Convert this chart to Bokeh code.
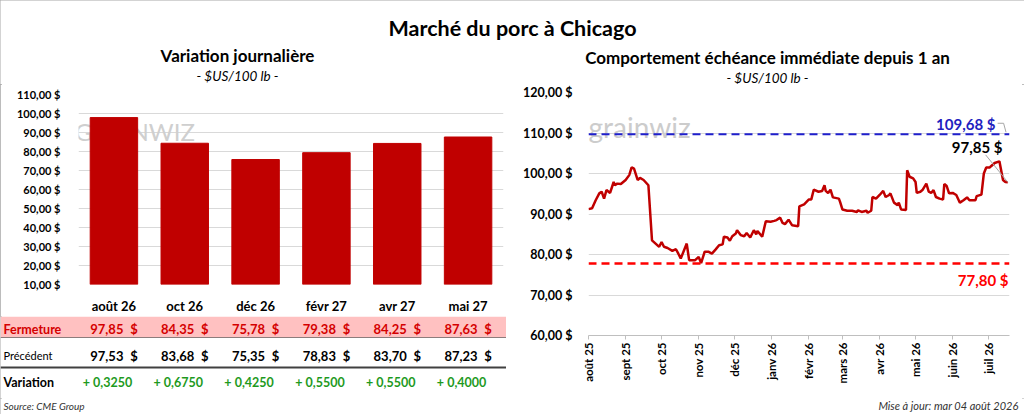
import math
import pandas as pd
from bokeh.plotting import figure
from bokeh.layouts import column, row
from bokeh.models import Range1d, FixedTicker, Span, BoxAnnotation
from bokeh.core.properties import value
from bokeh.embed import file_html
from bokeh.resources import INLINE

# contrats (variation journaliere)
echeances = ["août 26", "oct 26", "déc 26", "févr 27", "avr 27", "mai 27"]
fermeture = [97.85, 84.35, 75.78, 79.38, 84.25, 87.63]
precedent = [97.53, 83.68, 75.35, 78.83, 83.70, 87.23]
variation = [0.3250, 0.6750, 0.4250, 0.5500, 0.5500, 0.4000]

# echeance immediate, jours depuis le 1er aout 2025
jours = [0, 3, 6, 9, 11, 13, 15, 18, 21, 22, 24, 27, 31, 34, 36, 38, 41, 43, 46, 50,
         53, 56, 59, 61, 63, 66, 70, 73, 75, 77, 82, 84, 89, 92, 94, 97, 100, 103, 106, 109,
         112, 113, 116, 118, 120, 123, 124, 127, 130, 132, 135, 138, 140, 141, 145, 148, 152, 155, 157, 160,
         162, 164, 167, 170, 175, 176, 180, 184, 186, 188, 192, 195, 197, 198, 200, 202, 204, 209, 210, 212,
         216, 220, 224, 225, 228, 232, 233, 236, 237, 240, 243, 246, 248, 251, 252, 255, 258, 259, 261, 265,
         266, 268, 271, 273, 274, 277, 279, 282, 284, 286, 288, 290, 293, 296, 297, 299, 301, 304, 307, 310,
         313, 316, 318, 323, 324, 328, 330, 332, 335, 336, 339, 343, 346, 348, 350]
prix = [91.2, 91.4, 93.4, 95.1, 95.5, 93.8, 95.9, 95.2, 97.9, 97.1, 97.5, 97.4, 98.4, 99.6, 101.5, 101.2, 98.4, 98.9, 98.4, 97.1,
        83.5, 82.7, 81.9, 83.1, 81.9, 81.6, 80.9, 81.3, 80.2, 79.0, 82.7, 78.6, 78.6, 79.4, 77.9, 80.7, 80.7, 80.2, 81.2, 82.3,
        82.5, 84.4, 84.2, 83.4, 84.5, 85.2, 86.0, 84.8, 84.5, 85.3, 84.2, 86.0, 85.0, 85.8, 84.4, 88.2, 88.1, 88.3, 88.5, 89.1,
        87.8, 87.5, 88.6, 87.2, 87.0, 91.9, 92.4, 93.6, 93.6, 96.0, 95.5, 95.7, 97.1, 95.7, 95.2, 96.0, 94.1, 93.8, 93.0, 91.1,
        90.8, 90.8, 90.5, 90.9, 90.5, 90.8, 90.3, 90.8, 94.2, 93.8, 94.7, 95.7, 94.2, 94.7, 95.1, 92.8, 92.2, 92.8, 91.1, 91.0,
        100.8, 99.2, 98.8, 97.9, 95.2, 95.5, 96.0, 97.5, 95.5, 95.2, 95.9, 94.2, 93.8, 93.6, 97.4, 96.9, 95.1, 95.2, 94.7, 92.8,
        93.4, 94.1, 93.4, 93.4, 94.4, 94.8, 100.0, 101.5, 101.5, 101.8, 102.6, 103.0, 98.4, 97.9, 97.85]
haut_52s = 109.68
bas_52s = 77.80
mois = ["2025-08-01", "2025-09-01", "2025-10-01", "2025-11-01", "2025-12-01", "2026-01-01",
        "2026-02-01", "2026-03-01", "2026-04-01", "2026-05-01", "2026-06-01", "2026-07-01"]
mois_lbl = ["août 25", "sept 25", "oct 25", "nov 25", "déc 25", "janv 26",
            "févr 26", "mars 26", "avr 26", "mai 26", "juin 26", "juil 26"]

FONT = value("Lato")
ROUGE = "#C00000"
GRILLE = "#D9D9D9"


def fr(v, d=2):
    return f"{v:.{d}f}".replace(".", ",")


def bare(w, h, xr, yr):
    f = figure(width=w, height=h, x_range=xr, y_range=yr, x_axis_type=None, y_axis_type=None,
               toolbar_location=None, output_backend="svg", min_border=0)
    f.outline_line_color = None
    f.grid.visible = False
    f.frame_align = False
    return f


def txt(f, x, y, s, size, style="normal", color="black", align="center"):
    f.text(x=[x], y=[y], text=[s], text_font=FONT, text_font_size=size, text_font_style=style,
           text_color=color, text_align=align, text_baseline="middle")


# titres
head = bare(1024, 84, Range1d(0, 1024), Range1d(84, 0))
txt(head, 512, 27, "Marché du porc à Chicago", "21.5px", "bold")
txt(head, 237, 55, "Variation journalière", "17px", "bold")
txt(head, 237, 75, "- $US/100 lb -", "13.5px", "italic")
txt(head, 767, 57, "Comportement échéance immédiate depuis 1 an", "17px", "bold")
txt(head, 767, 77, "- $US/100 lb -", "13.5px", "italic")

# barres
p1 = figure(x_range=echeances, y_range=Range1d(10, 110), width=506, height=232,
            min_border_left=78, min_border_right=3, min_border_top=10, min_border_bottom=32,
            toolbar_location=None, output_backend="svg")
p1.frame_align = False
p1.outline_line_color = None
p1.xgrid.visible = False
p1.ygrid.grid_line_color = GRILLE
p1.text(x=[-0.05], y=[90.5], text=["GRAINWIZ"], text_font=FONT, text_font_size="24px",
        text_color="#CFCFCF", text_baseline="middle")
p1.vbar(x=echeances, top=fermeture, width=0.67, color=ROUGE)
p1.yaxis.ticker = FixedTicker(ticks=list(range(10, 111, 10)))
p1.yaxis.major_label_overrides = {t: f"{t},00 $" for t in range(10, 111, 10)}
for ax in (p1.xaxis, p1.yaxis):
    ax.axis_line_color = None
    ax.major_tick_line_color = None
    ax.minor_tick_line_color = None
    ax.major_label_text_font = "Lato"
    ax.major_label_text_font_style = "bold"
    ax.major_label_text_color = "black"
p1.yaxis.major_label_text_font_size = "11px"
p1.yaxis.major_label_standoff = 12
p1.xaxis.major_label_text_font_size = "13px"
p1.xaxis.major_label_standoff = 7

# tableau sous les barres
u = len(echeances) / 425
tab = bare(506, 82, Range1d(-78 * u, 428 * u), Range1d(82, 0))
tab.add_layout(BoxAnnotation(top=0, bottom=21, fill_color="#FFC1C1", fill_alpha=1,
                             line_color=None, level="underlay"))
tab.add_layout(Span(location=21, dimension="width", line_color="#8C7C7C", line_width=1, level="underlay"))
tab.add_layout(Span(location=51, dimension="width", line_color="#404040", line_width=2, level="underlay"))
x0 = -78 * u + 3 * u
txt(tab, x0, 12.5, "Fermeture", "12.5px", "bold", "#D40000", "left")
txt(tab, x0, 39, "Précédent", "11px", "normal", "black", "left")
txt(tab, x0, 65.5, "Variation", "12.5px", "bold", "black", "left")
for i in range(len(echeances)):
    c = i + 0.5
    txt(tab, c + 9.5 * u, 12.5, fr(fermeture[i]), "13px", "bold", "#D40000", "right")
    txt(tab, c + 20 * u, 12.5, "$", "13px", "bold", "#D40000")
    txt(tab, c + 9.5 * u, 39, fr(precedent[i]), "13px", "bold", "black", "right")
    txt(tab, c + 20 * u, 39, "$", "13px", "bold", "black")
    txt(tab, c - 6.5 * u, 65.5, "+ " + fr(variation[i], 4), "12.5px", "bold", "#1E9A1E")

# echeance immediate
debut = pd.Timestamp(mois[0])
ticks = [(pd.Timestamp(m) - debut).days for m in mois]
p2 = figure(x_range=Range1d(0, 421 / 1.198), y_range=Range1d(60, 120), width=518, height=314,
            min_border_left=82, min_border_right=15, min_border_top=8, min_border_bottom=63,
            toolbar_location=None, output_backend="svg")
p2.frame_align = False
p2.outline_line_color = None
p2.xgrid.visible = False
p2.ygrid.grid_line_color = GRILLE
p2.text(x=[0.0], y=[111.4], text=["grainwiz"], text_font=FONT, text_font_size="28px",
        text_color="#CCCCCC", text_baseline="middle")
p2.add_layout(Span(location=haut_52s, dimension="width", line_color="#1F1FCC", line_dash="8 5", line_width=2))
p2.add_layout(Span(location=bas_52s, dimension="width", line_color="#FF0000", line_dash="8 5", line_width=2.5))
p2.line(jours, prix, line_color=ROUGE, line_width=2.5)
p2.line([341.5, 346.5, 348.5], [112.4, 112.4, 110.2], line_color="#A6A6A6", line_width=1)
p2.line([331.5, jours[-1]], [104.6, prix[-1]], line_color="#A6A6A6", line_width=1)
p2.text(x=[339.7], y=[112.2], text=[fr(haut_52s) + " $"], text_font=FONT, text_font_size="15px",
        text_font_style="bold", text_color="#1F1FC0", text_align="right", text_baseline="middle")
p2.text(x=[345.6], y=[106.5], text=[fr(prix[-1]) + " $"], text_font=FONT, text_font_size="15px",
        text_font_style="bold", text_color="black", text_align="right", text_baseline="middle")
p2.text(x=[350.6], y=[73.6], text=[fr(bas_52s) + " $"], text_font=FONT, text_font_size="15px",
        text_font_style="bold", text_color="#FF0000", text_align="right", text_baseline="middle")
p2.yaxis.ticker = FixedTicker(ticks=list(range(60, 121, 10)))
p2.yaxis.major_label_overrides = {t: f"{t},00 $" for t in range(60, 121, 10)}
p2.yaxis.axis_line_color = None
p2.yaxis.major_tick_line_color = None
p2.yaxis.minor_tick_line_color = None
p2.yaxis.major_label_text_font_size = "12.5px"
p2.yaxis.major_label_standoff = 10
p2.xaxis.ticker = FixedTicker(ticks=ticks)
p2.xaxis.major_label_overrides = dict(zip(ticks, mois_lbl))
p2.xaxis.major_label_orientation = math.pi / 2
p2.xaxis.axis_line_color = "#BFBFBF"
p2.xaxis.major_tick_line_color = "#BFBFBF"
p2.xaxis.major_tick_in = 0
p2.xaxis.major_tick_out = 4
p2.xaxis.minor_tick_line_color = None
p2.xaxis.major_label_text_font_size = "11.5px"
p2.xaxis.major_label_standoff = 3
for ax in (p2.xaxis, p2.yaxis):
    ax.major_label_text_font = "Lato"
    ax.major_label_text_font_style = "bold"
    ax.major_label_text_color = "black"

# pied de page
foot = bare(1024, 16, Range1d(0, 1024), Range1d(16, 0))
txt(foot, 3, 7, "Source: CME Group", "10px", "italic", "#333333", "left")
txt(foot, 1018, 7, "Mise à jour: mar 04 août 2026", "11px", "italic", "#333333", "right")

page = column(head, row(column(p1, tab), p2), foot)
page.styles = {"outline": "2px solid #A6A6A6", "outline-offset": "-2px"}
open("out.html", "w").write(file_html(page, INLINE))
